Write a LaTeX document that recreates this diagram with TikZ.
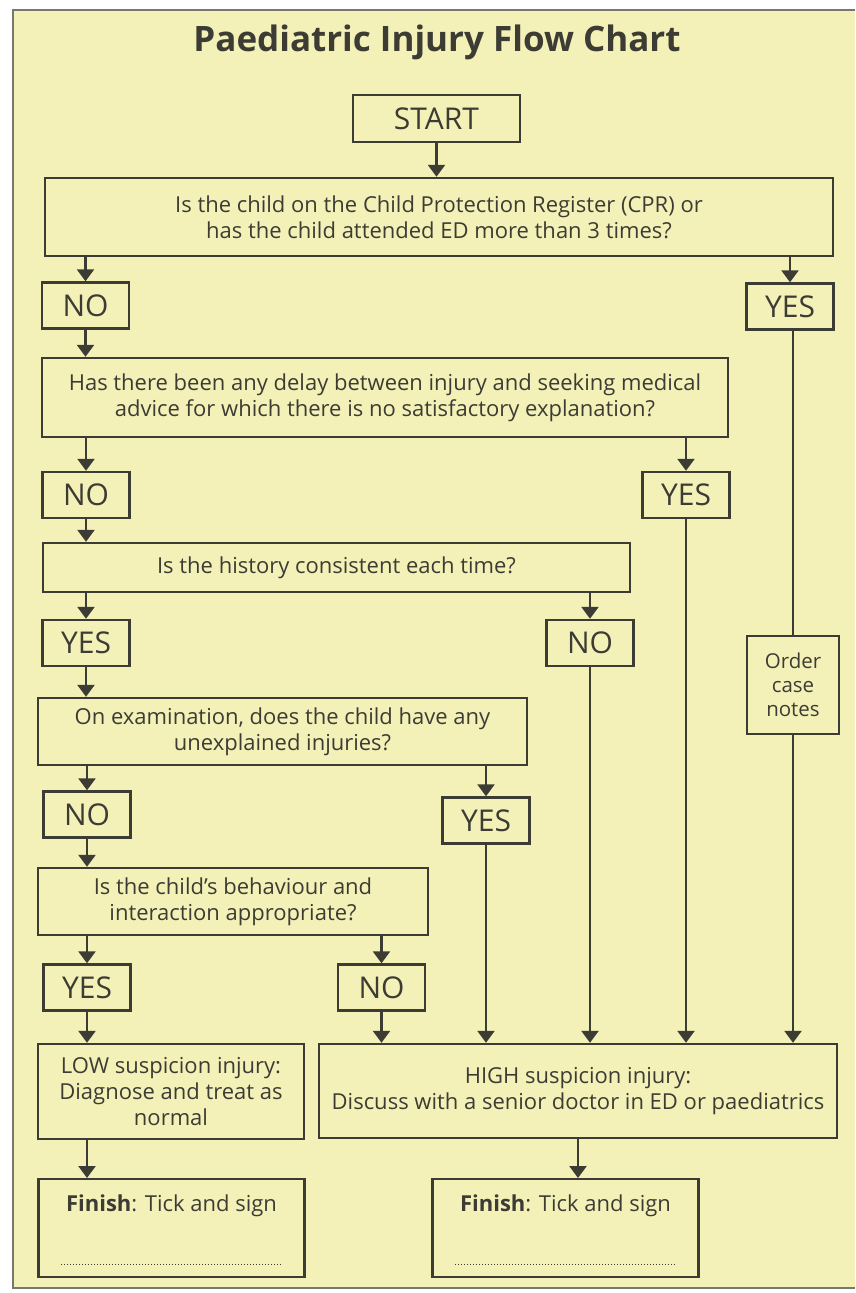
\documentclass[tikz,border=0pt]{standalone}
\usepackage{fontspec}
\setmainfont{Open Sans}
\usetikzlibrary{arrows.meta}

\definecolor{paper}{RGB}{244,241,184}
\definecolor{ink}{RGB}{60,60,52}

\begin{document}
\begin{tikzpicture}
[x=1pt,y=-1pt,
  boxdecorate/.style={draw=ink,line width=2.4pt,inner sep=0pt,align=center,
    text=ink,font=\fontsize{22}{26}\selectfont},
  answerdecorate/.style={boxdecorate,minimum width=87pt,minimum height=46pt,
    font=\fontsize{30}{32}\selectfont},
  finishdecorate/.style={boxdecorate,anchor=north,minimum width=266pt,
    inner ysep=10pt,text height=22pt,text depth=56pt},
  arrowdecorate/.style={draw=ink,line width=2.4pt,-{Triangle[length=12pt,width=17pt]}},
  linedecorate/.style={draw=ink,line width=2.4pt}]
%% page and frame
\useasboundingbox (0,0) rectangle (855,1293);
\fill[white] (0,0) rectangle (855,1293);
\fill[paper] (13,10) rectangle (855,1288);
\draw[ink!70,line width=1.6pt] (855,10) -- (13,10) -- (13,1288) -- (855,1288);
\node[text=ink,font=\bfseries\fontsize{35}{40}\selectfont] (title) at (437,42)
  {Paediatric Injury Flow Chart};
\node[boxdecorate,minimum width=167pt,minimum height=47pt,
  font=\fontsize{30}{32}\selectfont] (start) at (436.5,118.5) {START};
%% questions and outcomes
\foreach \nodename/\x/\y/\w/\h/\nodetext in {
  q1/439/217/788/78/{Is the child on the Child Protection Register (CPR) or\\has the child attended ED more than 3 times?},
  q2/385/397.5/686/79/{Has there been any delay between injury and seeking medical\\advice for which there is no satisfactory explanation?},
  q3/336.5/567.5/587/49/{Is the history consistent each time?},
  q4/282.5/731.5/489/67/{On examination, does the child have any\\unexplained injuries?},
  q5/233/901.5/390/67/{Is the child's behaviour and\\interaction appropriate?},
  low/171/1091.5/266/95/{LOW suspicion injury:\\Diagnose and treat as\\normal},
  high/578/1091/518/94/{HIGH suspicion injury:\\Discuss with a senior doctor in ED or paediatrics}}
{
  \node[boxdecorate,minimum width=\w pt,minimum height=\h pt] (\nodename) at (\x,\y) {\nodetext};
}
%% answers
\foreach \nodename/\x/\y/\nodetext in {
  no1/85.5/305.5/NO, yes1/790/306.5/YES,
  no2/86/495/NO, yes2/686/495/YES,
  yes3/86/643/YES, no3/590/643/NO,
  no4/87/814.5/NO, yes4/486/820.5/YES,
  yes5/87/987.5/YES, no5/381.5/987.5/NO}
{
  \node[answerdecorate] (\nodename) at (\x,\y) {\nodetext};
}
\node[boxdecorate,minimum width=92pt,minimum height=98pt,
  font=\fontsize{20.5}{24}\selectfont] (order) at (793,685) {Order\\case\\notes};
\node[finishdecorate] (fin1) at (171.5,1178) {\textbf{Finish}: Tick and sign};
\node[finishdecorate] (fin2) at (565.5,1178) {\textbf{Finish}: Tick and sign};
\draw[ink,line width=1pt,dotted] ([xshift=24pt,yshift=14pt]fin1.south west) -- ([xshift=-23pt,yshift=14pt]fin1.south east);
\draw[ink,line width=1pt,dotted] ([xshift=24pt,yshift=14pt]fin2.south west) -- ([xshift=-23pt,yshift=14pt]fin2.south east);
%% arrows that take the column of the box below
\foreach \startnode/\endnode in {q1/no1, q1/yes1, q2/no2, q2/yes2, q3/yes3,
  q3/no3, q4/no4, q4/yes4, q5/yes5, q5/no5}
{
  \draw[arrowdecorate] (\startnode.south -| \endnode) -- (\endnode.north);
}
%% arrows that keep the column of the box above
\foreach \startnode/\endnode in {start/q1, no1/q2, no2/q3, yes3/q4, no4/q5,
  yes5/low, high/fin2, no5/high, yes4/high, no3/high, yes2/high, order/high}
{
  \draw[arrowdecorate] (\startnode.south) -- (\startnode.south |- \endnode.north);
}
\draw[linedecorate] (yes1.south -| order) -- (order.north);
\draw[arrowdecorate] (low.south -| yes5) -- (yes5 |- fin1.north);
\end{tikzpicture}
\end{document}
